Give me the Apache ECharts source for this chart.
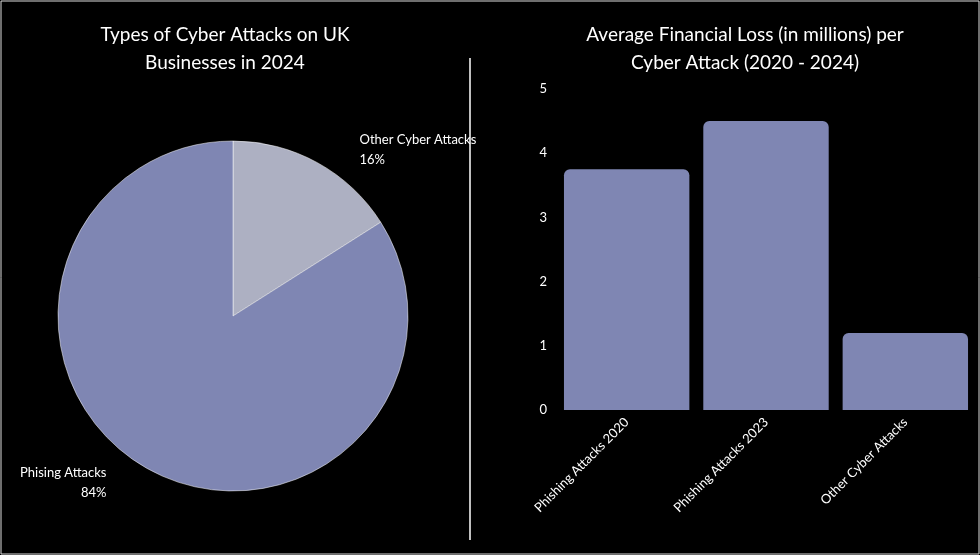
<!DOCTYPE html>
<html><head><meta charset="utf-8">
<script src="https://cdn.jsdelivr.net/npm/echarts@6/dist/echarts.min.js"></script>
<style>html,body{margin:0;background:#000}#c{width:980px;height:555px}</style>
</head><body><div id="c"></div>
<script>
const pieNames = ['Other Cyber Attacks', 'Phising Attacks'];
const pieValues = [16, 84];
const barCategories = ['Phishing Attacks 2020', 'Phishing Attacks 2023', 'Other Cyber Attacks'];
const barValues = [3.75, 4.5, 1.2];
const yTicks = [0, 1, 2, 3, 4, 5];

const font = 'Lato';
const chart = echarts.init(document.getElementById('c'));
chart.setOption({
  backgroundColor: '#000',
  textStyle: { fontFamily: font },
  graphic: [
    { type: 'rect', shape: { x: 1, y: 1, width: 978, height: 553 }, style: { fill: 'none', stroke: '#ddd', lineWidth: 1 } },
    { type: 'line', shape: { x1: 470, y1: 58, x2: 470, y2: 540 }, style: { stroke: '#fff', lineWidth: 1.5 } }
  ],
  title: [
    { text: 'Types of Cyber Attacks on UK\nBusinesses in 2024', left: 220, top: 16, textAlign: 'center',
      textStyle: { color: '#fff', fontSize: 19, fontWeight: 'normal', lineHeight: 28, fontFamily: font } },
    { text: 'Average Financial Loss (in millions) per\nCyber Attack (2020 - 2024)', left: 740, top: 16, textAlign: 'center',
      textStyle: { color: '#fff', fontSize: 19, fontWeight: 'normal', lineHeight: 28, fontFamily: font } }
  ],
  grid: { left: 557, right: 5, top: 89, bottom: 145 },
  xAxis: { type: 'category', data: barCategories,
    axisLine: { show: false }, axisTick: { show: false },
    axisLabel: { color: '#fff', rotate: 45, fontSize: 13, margin: 10 } },
  yAxis: { type: 'value', min: 0, max: 5, interval: 1,
    splitLine: { show: false }, axisLine: { show: false }, axisTick: { show: false },
    axisLabel: { color: '#fff', fontSize: 13, margin: 10, formatter: v => yTicks.includes(v) ? String(v) : '' } },
  series: [
    { type: 'bar', data: barValues, barCategoryGap: '10%',
      itemStyle: { color: '#7f86b3', borderRadius: [6, 6, 0, 0] } },
    { type: 'pie', center: [233, 316], radius: 175, startAngle: 90, clockwise: true,
      data: pieNames.map((n, i) => ({ name: n, value: pieValues[i] })),
      color: ['#adb0c2', '#7f86b3'],
      itemStyle: { borderColor: '#fff', borderWidth: 0.5 },
      label: { color: '#fff', fontSize: 13, lineHeight: 20, formatter: '{b}\n{d}%', position: 'outside', align: 'center' },
      labelLine: { show: false },
      emphasis: { disabled: true } }
  ]
});
</script></body></html>
